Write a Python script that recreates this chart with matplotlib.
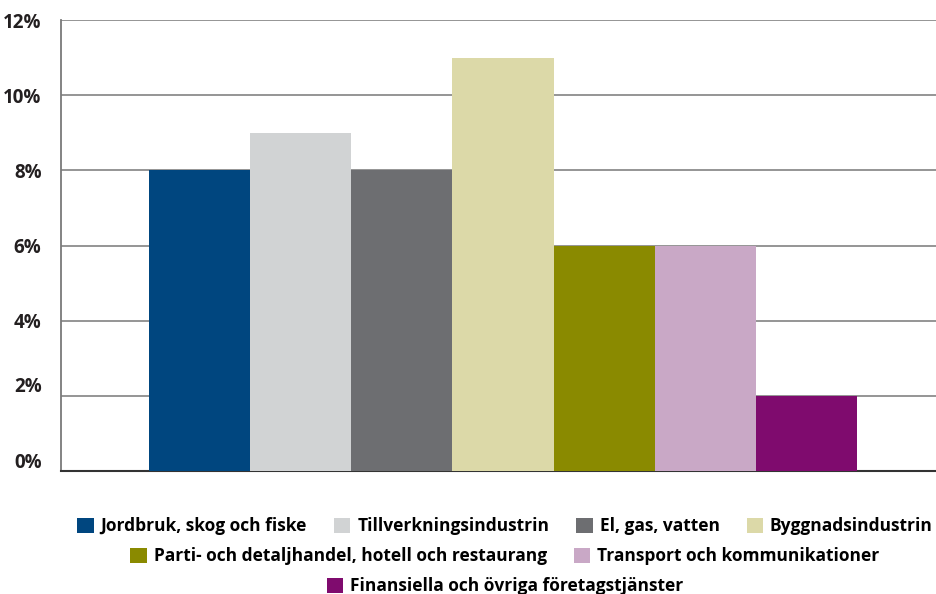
import numpy as np
import matplotlib.pyplot as plt
import matplotlib.transforms as mtransforms
from matplotlib.patches import Patch

# Data
sectors = ['Jordbruk, skog och fiske', 'Tillverkningsindustrin', 'El, gas, vatten',
           'Byggnadsindustrin', 'Parti- och detaljhandel, hotell och restaurang',
           'Transport och kommunikationer', 'Finansiella och övriga företagstjänster']
values = [8, 9, 8, 11, 6, 6, 2]
colors = ['#00467F', '#D1D3D4', '#6D6E71', '#DCD9A8', '#8A8A00', '#C9A8C6', '#7F0B6E']
yticks = [0, 2, 4, 6, 8, 10, 12]
ytick_labels = ['0%', '2%', '4%', '6%', '8%', '10%', '12%']

plt.rcParams['font.family'] = ['Open Sans', 'DejaVu Sans']
plt.rcParams['font.weight'] = 'bold'

fig = plt.figure(figsize=(9.36, 5.94), dpi=100)
# axes deliberately runs a bit past the right edge, as in the reference
ax = fig.add_axes([61 / 936, 1 - 471 / 594, 884 / 936, 451 / 594])

x = np.arange(len(values))
ax.bar(x, values, width=1.0, color=colors, zorder=3)

ax.set_xlim(-1.37, len(values) - 1 + 1.37)
ax.set_ylim(0, 12)
ax.set_yticks(yticks)
ax.set_yticklabels(ytick_labels, fontsize=13.5, fontweight='bold', color='#231F20')
ax.set_xticks([])
ax.tick_params(axis='y', length=0, pad=14)
ax.yaxis.grid(True, color='#8C8C8C', linewidth=1.3, zorder=0)

# the two lowest labels sit a little above their lines in the original
for lab in ax.get_yticklabels()[:2]:
    lab.set_transform(lab.get_transform() + mtransforms.ScaledTranslation(0, 11 / 100, fig.dpi_scale_trans))

for s in ['top', 'right']:
    ax.spines[s].set_visible(False)
ax.spines['left'].set_color('#7A7A7A')
ax.spines['left'].set_linewidth(1.3)
ax.spines['bottom'].set_color('#333333')
ax.spines['bottom'].set_linewidth(1.5)

# legend in three centred rows
rows = [[0, 1, 2, 3], [4, 5], [6]]
row_y = [526, 556, 586]
for idx, yy in zip(rows, row_y):
    handles = [Patch(facecolor=colors[i], edgecolor='none', label=sectors[i]) for i in idx]
    fig.legend(handles=handles, loc='center', bbox_to_anchor=(505 / 936, 1 - yy / 594),
               ncol=len(idx), frameon=False, fontsize=12.5,
               handlelength=0.95, handleheight=0.95, handletextpad=0.4,
               columnspacing=1.55, borderpad=0, borderaxespad=0)

fig.savefig('out.png', dpi=100)
